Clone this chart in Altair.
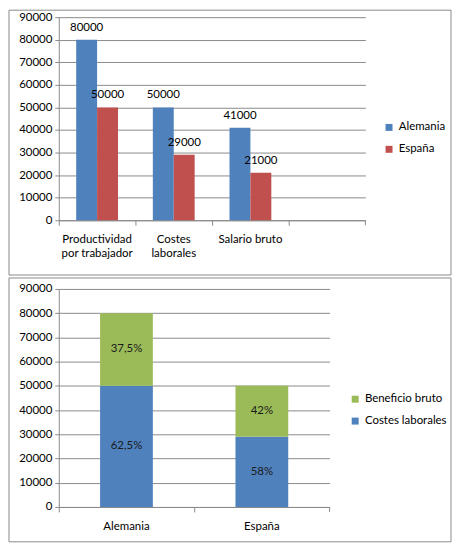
import json
import altair as alt
import pandas as pd

# ---------------- data ----------------
CATEGORIES = ["Productividad por trabajador", "Costes laborales", "Salario bruto", ""]
CATEGORY_LINES = [["Productividad", "por trabajador"], ["Costes", "laborales"], ["Salario bruto"], [""]]
COUNTRIES = ["Alemania", "España"]
ALEMANIA = [80000, 50000, 41000]
ESPANA = [50000, 29000, 21000]
Y_TICKS = [0, 10000, 20000, 30000, 40000, 50000, 60000, 70000, 80000, 90000]

STACK_COUNTRIES = ["Alemania", "España"]
STACK_SERIES = ["Beneficio bruto", "Costes laborales"]
COSTES = [50000, 29000]
BENEFICIO = [30000, 21000]
COSTES_PCT = ["62,5%", "58%"]
BENEFICIO_PCT = ["37,5%", "42%"]

COLORS_TOP = ["#4F81BD", "#C0504D"]
COLORS_BOTTOM = ["#9BBB59", "#4F81BD"]

FONT = "Lato"
FS = 11.5
GRAY = "#8a8a8a"

# ---------------- tables ----------------
rows = []
for i, cat in enumerate(CATEGORIES[:3]):
    rows.append({"categoria": cat, "pais": "Alemania", "valor": ALEMANIA[i]})
    rows.append({"categoria": cat, "pais": "España", "valor": ESPANA[i]})
top_df = pd.DataFrame(rows)

srows = []
for i, p in enumerate(STACK_COUNTRIES):
    srows.append({"pais": p, "serie": "Costes laborales", "valor": COSTES[i], "orden": 0, "pct": COSTES_PCT[i]})
    srows.append({"pais": p, "serie": "Beneficio bruto", "valor": BENEFICIO[i], "orden": 1, "pct": BENEFICIO_PCT[i]})
bot_df = pd.DataFrame(srows)

one = pd.DataFrame({"k": [0]})

label_expr = "".join(
    f"datum.value == {json.dumps(c)} ? {json.dumps(l)} : " for c, l in zip(CATEGORIES, CATEGORY_LINES)
) + "datum.label"

# ---------------- top chart ----------------
TW, TH = 308, 204
top_x = alt.X(
    "categoria:N",
    scale=alt.Scale(domain=CATEGORIES, paddingInner=0, paddingOuter=0),
    axis=alt.Axis(
        title=None, labelAngle=0, bandPosition=0,
        labelExpr=label_expr, labelBaseline="top", labelPadding=8,
        labelLineHeight=14, grid=False, tickSize=5,
    ),
)
top_xoff = alt.XOffset("pais:N", scale=alt.Scale(domain=COUNTRIES, paddingInner=0, paddingOuter=0.833))
top_y = alt.Y(
    "valor:Q",
    scale=alt.Scale(domain=[0, 90000], nice=False),
    axis=alt.Axis(title=None, values=Y_TICKS, format="d", tickSize=4, labelPadding=3),
)

top_frame = alt.Chart(one).mark_rect(fillOpacity=0, stroke=GRAY, strokeWidth=1).encode(
    x=alt.value(-50), x2=alt.value(394), y=alt.value(-7), y2=alt.value(259)
)
top_bars = alt.Chart(top_df).mark_bar().encode(
    x=top_x, xOffset=top_xoff, y=top_y,
    color=alt.Color(
        "pais:N",
        scale=alt.Scale(domain=COUNTRIES, range=COLORS_TOP),
        legend=alt.Legend(
            title=None, orient="none", legendX=326, legendY=105,
            symbolType="square", symbolSize=49, symbolStrokeWidth=0,
            labelFont=FONT, labelFontSize=FS, labelColor="#000", rowPadding=9,
        ),
    ),
)
top_text = alt.Chart(top_df).mark_text(
    baseline="bottom", dy=-7, font=FONT, fontSize=FS, color="#000"
).encode(x=top_x, xOffset=top_xoff, y=top_y, text=alt.Text("valor:Q", format="d"))
top_end_tick = alt.Chart(one).mark_rule(color=GRAY).encode(
    x=alt.value(TW), y=alt.value(TH), y2=alt.value(TH + 5)
)
top = alt.layer(top_frame, top_bars, top_text, top_end_tick).properties(width=TW, height=TH)

# ---------------- bottom chart ----------------
BW, BH = 272, 219
bot_x = alt.X(
    "pais:N",
    scale=alt.Scale(domain=STACK_COUNTRIES, paddingInner=0, paddingOuter=0),
    axis=alt.Axis(
        title=None, labelAngle=0, bandPosition=0,
        labelBaseline="top", labelPadding=9, grid=False, tickSize=5,
    ),
)
bot_y_axis = alt.Axis(title=None, values=Y_TICKS, format="d", tickSize=4, labelPadding=3)
bot_y_scale = alt.Scale(domain=[0, 90000], nice=False)

bot_frame = alt.Chart(one).mark_rect(fillOpacity=0, stroke=GRAY, strokeWidth=1).encode(
    x=alt.value(-50), x2=alt.value(394), y=alt.value(-11), y2=alt.value(254)
)
bot_bars = alt.Chart(bot_df).mark_bar(width=53).encode(
    x=bot_x,
    y=alt.Y("valor:Q", stack="zero", scale=bot_y_scale, axis=bot_y_axis),
    order=alt.Order("orden:Q", sort="ascending"),
    color=alt.Color(
        "serie:N",
        scale=alt.Scale(domain=STACK_SERIES, range=COLORS_BOTTOM),
        legend=alt.Legend(
            title=None, orient="none", legendX=292, legendY=105,
            symbolType="square", symbolSize=49, symbolStrokeWidth=0,
            labelFont=FONT, labelFontSize=FS, labelColor="#000", rowPadding=9,
        ),
    ),
)
bot_text = alt.Chart(bot_df).transform_stack(
    stack="valor", groupby=["pais"], as_=["y0", "y1"], sort=[alt.SortField("orden", order="ascending")]
).transform_calculate(mid="(datum.y0 + datum.y1) / 2").mark_text(
    baseline="middle", font=FONT, fontSize=FS, color="#1b1b1b"
).encode(
    x=bot_x,
    y=alt.Y("mid:Q", scale=bot_y_scale, axis=bot_y_axis),
    text="pct:N",
)
bot_end_tick = alt.Chart(one).mark_rule(color=GRAY).encode(
    x=alt.value(BW), y=alt.value(BH), y2=alt.value(BH + 5)
)
bottom = alt.layer(bot_frame, bot_bars, bot_text, bot_end_tick).properties(width=BW, height=BH)

chart = (
    alt.vconcat(top, bottom, spacing=1)
    .resolve_scale(color="independent")
    .properties(padding=0, background="white")
    .configure_view(stroke=None)
    .configure_axis(
        labelFont=FONT, labelFontSize=FS, labelColor="#000",
        domainColor=GRAY, tickColor=GRAY, gridColor=GRAY, gridOpacity=1,
    )
)

chart.save("out.html", embed_options={"renderer": "svg", "actions": False})
